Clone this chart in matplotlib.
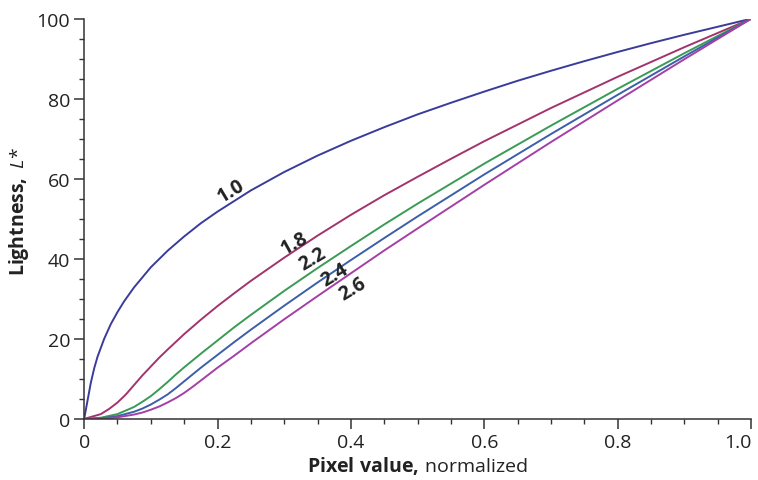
import matplotlib
matplotlib.use("Agg")
import matplotlib.pyplot as plt
from matplotlib.ticker import MultipleLocator

plt.rcParams['font.family'] = ['Open Sans', 'DejaVu Sans']
plt.rcParams['mathtext.fontset'] = 'custom'
plt.rcParams['mathtext.rm'] = 'Open Sans'
plt.rcParams['mathtext.bf'] = 'Open Sans:bold'
plt.rcParams['mathtext.it'] = 'Open Sans:italic'

# curves: pixel value -> L*
x_10 = [0, 0.001, 0.002, 0.004, 0.006, 0.008, 0.01, 0.015, 0.02, 0.03, 0.04, 0.05, 0.06, 0.075,
        0.1, 0.125, 0.15, 0.175, 0.2, 0.25, 0.3, 0.35, 0.4, 0.45, 0.5, 0.55, 0.6, 0.65, 0.7,
        0.75, 0.8, 0.85, 0.9, 0.95, 1.0]
L_10 = [0, 0.9, 1.8, 3.6, 5.4, 7.2, 9.0, 12.6, 15.5, 20.0, 23.7, 26.7, 29.4, 32.9,
        37.9, 42.0, 45.6, 48.9, 51.8, 57.1, 61.7, 65.8, 69.5, 72.9, 76.1, 79.0, 81.8, 84.5, 87.0,
        89.4, 91.7, 93.9, 96.0, 98.0, 100]

x_18 = [0, 0.025, 0.0375, 0.05, 0.0625, 0.075, 0.0875, 0.1, 0.1125, 0.125, 0.15, 0.175, 0.2,
        0.225, 0.25, 0.3, 0.35, 0.4, 0.45, 0.5, 0.55, 0.6, 0.7, 0.8, 0.9, 1.0]
L_18 = [0, 1.2, 2.5, 4.1, 6.1, 8.5, 10.9, 13.1, 15.3, 17.3, 21.2, 24.8, 28.2,
        31.4, 34.5, 40.3, 45.8, 51.0, 55.9, 60.5, 65.0, 69.4, 77.7, 85.5, 92.9, 100]

x_22 = [0, 0.025, 0.05, 0.075, 0.0875, 0.1, 0.1125, 0.125, 0.1375, 0.15, 0.175, 0.2, 0.225,
        0.25, 0.3, 0.35, 0.4, 0.45, 0.5, 0.6, 0.7, 0.8, 0.9, 1.0]
L_22 = [0, 0.3, 1.2, 3.0, 4.3, 5.7, 7.4, 9.2, 11.1, 12.9, 16.3, 19.6, 22.9,
        26.0, 32.0, 37.7, 43.2, 48.6, 53.8, 63.8, 73.3, 82.5, 91.4, 100]

x_24 = [0, 0.025, 0.05, 0.075, 0.0875, 0.1, 0.1125, 0.125, 0.1375, 0.15, 0.1625, 0.175, 0.2,
        0.225, 0.25, 0.3, 0.35, 0.4, 0.45, 0.5, 0.6, 0.7, 0.8, 0.9, 1.0]
L_24 = [0, 0.1, 0.7, 1.8, 2.6, 3.6, 4.8, 6.1, 7.7, 9.4, 11.1, 12.8, 16.0,
        19.2, 22.3, 28.3, 34.1, 39.7, 45.2, 50.6, 61.1, 71.2, 81.0, 90.6, 100]

x_26 = [0, 0.025, 0.05, 0.075, 0.0875, 0.1, 0.1125, 0.125, 0.1375, 0.15, 0.1625, 0.175, 0.1875,
        0.2, 0.225, 0.25, 0.3, 0.35, 0.4, 0.45, 0.5, 0.6, 0.7, 0.8, 0.9, 1.0]
L_26 = [0, 0.06, 0.4, 1.1, 1.6, 2.3, 3.1, 4.1, 5.2, 6.5, 8.0, 9.6, 11.2,
        12.8, 15.8, 18.9, 24.9, 30.7, 36.4, 42.1, 47.6, 58.5, 69.2, 79.6, 89.9, 100]

series = [
    (x_10, L_10, '#3b3b9c', '1.0', 0.22, 57.0, 31),
    (x_18, L_18, '#a2336f', '1.8', 0.315, 44.0, 29),
    (x_22, L_22, '#3a9b55', '2.2', 0.343, 40.0, 31),
    (x_24, L_24, '#3b5fa9', '2.4', 0.376, 36.0, 31),
    (x_26, L_26, '#a43fa6', '2.6', 0.403, 32.5, 31),
]

fig = plt.figure(figsize=(7.58, 4.81), dpi=100)
ax = fig.add_axes([0.111, 0.127, 0.880, 0.832])

for xs, ys, c, lab, tx, ty, rot in series:
    ax.plot(xs, ys, color=c, lw=1.4, solid_capstyle='round', solid_joinstyle='round')
    ax.text(tx, ty, lab, rotation=rot, fontsize=14, fontweight='bold',
            color='#222222', ha='center', va='center', rotation_mode='anchor')

ax.set_xlim(0, 1.0)
ax.set_ylim(0, 100)
ax.xaxis.set_minor_locator(MultipleLocator(0.05))
ax.yaxis.set_major_locator(MultipleLocator(20))
ax.yaxis.set_minor_locator(MultipleLocator(5))
ax.set_xticks([0, 0.2, 0.4, 0.6, 0.8, 1.0])
ax.set_xticklabels(['0', '0.2', '0.4', '0.6', '0.8', '1.0'])
ax.get_xticklabels()[-1].set_horizontalalignment('right')

for s in ['top', 'right']:
    ax.spines[s].set_visible(False)
for s in ['left', 'bottom']:
    ax.spines[s].set_linewidth(1.1)
    ax.spines[s].set_color('#333333')

ax.tick_params(which='major', length=7, width=1.1, color='#333333', labelsize=14,
               labelcolor='#222222', pad=3)
ax.tick_params(which='minor', length=3.6, width=1.0, color='#333333')

ax.set_xlabel(r'$\mathbf{Pixel\ value,}\,$normalized', fontsize=14, color='#222222', labelpad=2)
ax.set_ylabel(r'$\mathbf{Lightness,}\ \mathit{L}$*', fontsize=14, color='#222222')
ax.yaxis.set_label_coords(-0.08, 0.52)

fig.savefig('out.png', dpi=100)
